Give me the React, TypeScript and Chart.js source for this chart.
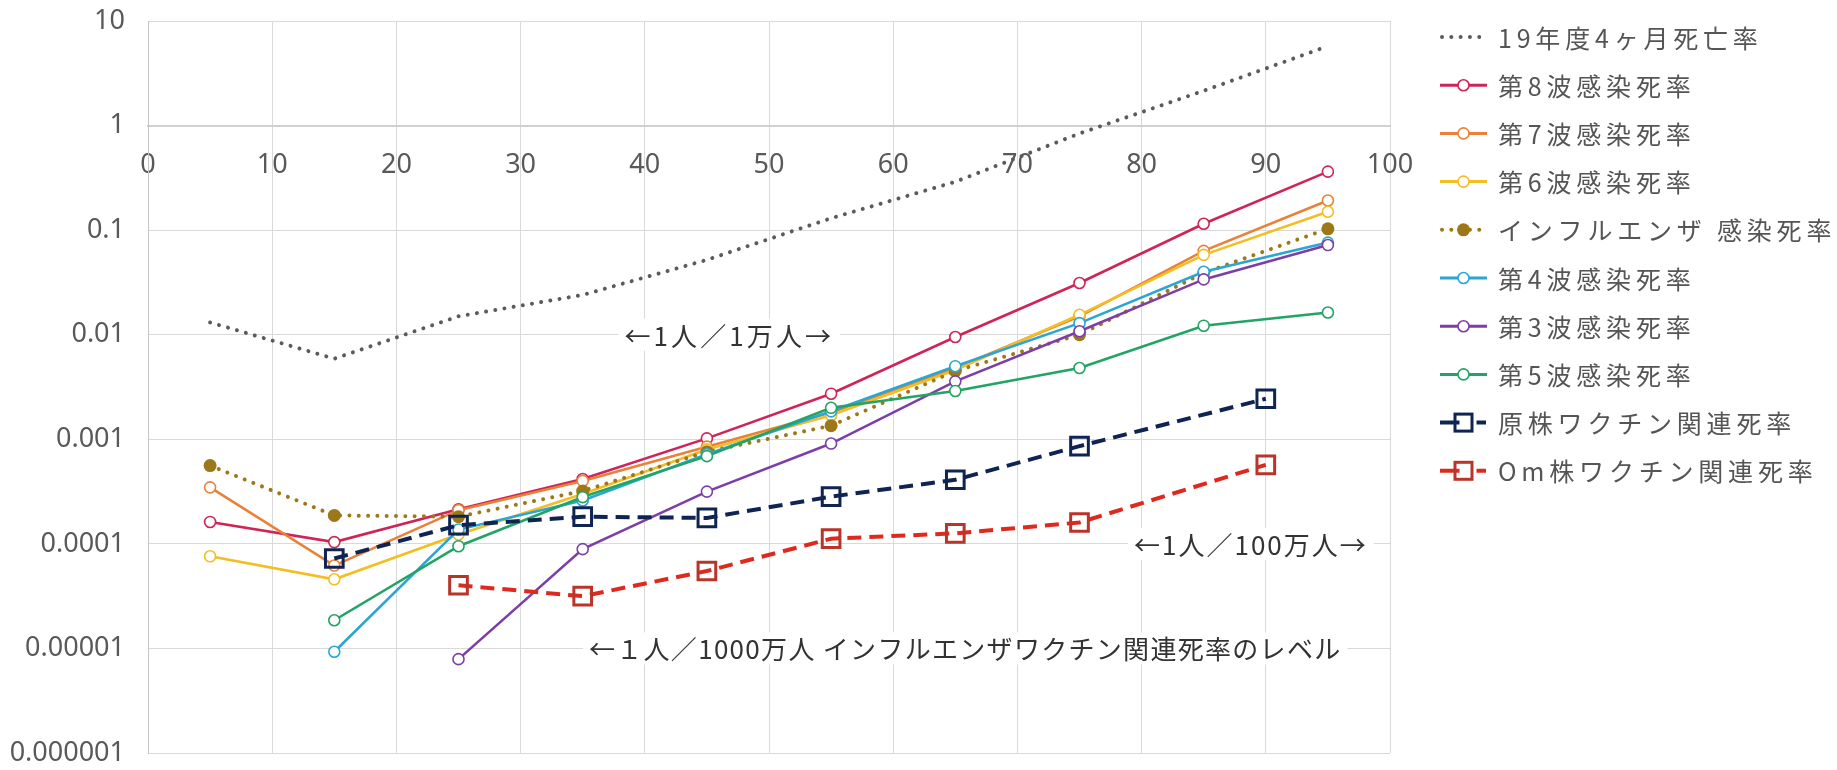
import React, { useEffect, useRef } from 'react';
import { Chart, registerables } from 'chart.js';

Chart.register(...registerables);

// Age groups (class midpoints) and vaccine age groups
const ages = [5, 15, 25, 35, 45, 55, 65, 75, 85, 95];
const ancestralAges = [15, 25, 35, 45, 55, 65, 75, 90];
const omicronAges = [25, 35, 45, 55, 65, 75, 90];

// Death rates (%)
const mortality2019 = [0.0131, 0.0059, 0.015, 0.024, 0.052, 0.13, 0.29, 0.84, 2.15, 5.75];
const wave8 = [0.000162, 0.000104, 0.000214, 0.000417, 0.00102, 0.00273, 0.0095, 0.0312, 0.115, 0.363];
const wave7 = [0.000347, 0.000062, 0.00021, 0.0004, 0.00085, 0.0018, 0.0048, 0.015, 0.0634, 0.192];
const wave6 = [0.000076, 0.0000458, 0.000123, 0.0003, 0.0008, 0.0017, 0.0046, 0.0155, 0.058, 0.15];
const influenza = [0.00056, 0.000187, 0.000182, 0.00032, 0.00076, 0.00135, 0.0045, 0.01, 0.039, 0.103];
const wave4 = [null, 0.0000093, 0.000137, 0.00026, 0.00072, 0.00185, 0.005, 0.0129, 0.04, 0.076];
const wave3 = [null, null, 0.0000079, 0.000089, 0.000316, 0.00091, 0.00358, 0.0108, 0.0338, 0.072];
const wave5 = [null, 0.0000186, 0.000095, 0.00028, 0.00069, 0.002, 0.0029, 0.0048, 0.0122, 0.0163];
const ancestralVaccine = [0.0000724, 0.000151, 0.000182, 0.000177, 0.000283, 0.00041, 0.00086, 0.00244];
const omicronVaccine = [0.0000402, 0.0000316, 0.000055, 0.000112, 0.000126, 0.00016, 0.00057];

// Axis ticks
const xTickValues = [0, 10, 20, 30, 40, 50, 60, 70, 80, 90, 100];
const yTickValues = [1e-6, 1e-5, 1e-4, 1e-3, 1e-2, 1e-1, 1, 10];
const yTickLabels = ['0.000001', '0.00001', '0.0001', '0.001', '0.01', '0.1', '1', '10'];

// Reference-level notes written across the grid lines
const notes = [
  { text: '←1人／1万人→', x: 46.8, y: 1e-2, spacing: 3.1 },
  { text: '←1人／100万人→', x: 88.8, y: 1e-4, spacing: 2 },
  { text: '←１人／1000万人 インフルエンザワクチン関連死率のレベル', x: 65.8, y: 1e-5, spacing: 1.3 },
];

type Kind = 'dots' | 'circle' | 'filled' | 'square';

interface Series {
  label: string;
  xs: number[];
  ys: (number | null)[];
  color: string;
  markerColor?: string;
  kind: Kind;
}

const series: Series[] = [
  { label: '19年度4ヶ月死亡率', xs: ages, ys: mortality2019, color: '#5b5b5b', kind: 'dots' },
  { label: '第8波感染死率', xs: ages, ys: wave8, color: '#cf2457', kind: 'circle' },
  { label: '第7波感染死率', xs: ages, ys: wave7, color: '#e98238', kind: 'circle' },
  { label: '第6波感染死率', xs: ages, ys: wave6, color: '#f4bd22', kind: 'circle' },
  { label: 'インフルエンザ 感染死率', xs: ages, ys: influenza, color: '#9c7818', kind: 'filled' },
  { label: '第4波感染死率', xs: ages, ys: wave4, color: '#2aa6d6', kind: 'circle' },
  { label: '第3波感染死率', xs: ages, ys: wave3, color: '#7d3ea8', kind: 'circle' },
  { label: '第5波感染死率', xs: ages, ys: wave5, color: '#21a464', kind: 'circle' },
  { label: '原株ワクチン関連死率', xs: ancestralAges, ys: ancestralVaccine, color: '#0f2452', kind: 'square' },
  { label: 'Om株ワクチン関連死率', xs: omicronAges, ys: omicronVaccine, color: '#de2a1e', markerColor: '#b9352a', kind: 'square' },
];

const DOT_DASH = [0.01, 9.3];
const DASH = [14, 8];

function buildDataset(s: Series, i: number) {
  const data = s.xs
    .map((x, k) => ({ x, y: s.ys[k] }))
    .filter((p) => p.y !== null) as { x: number; y: number }[];
  const base: any = {
    label: s.label,
    data,
    borderColor: s.color,
    order: series.length - i,
    tension: 0,
    fill: false,
  };
  if (s.kind === 'dots') {
    return { ...base, borderWidth: 4, borderDash: DOT_DASH, borderCapStyle: 'round', pointRadius: 0 };
  }
  if (s.kind === 'filled') {
    return {
      ...base,
      borderWidth: 4,
      borderDash: DOT_DASH,
      borderCapStyle: 'round',
      pointStyle: 'circle',
      pointRadius: 6.5,
      pointBorderWidth: 0,
      pointBackgroundColor: s.color,
    };
  }
  if (s.kind === 'square') {
    return {
      ...base,
      borderWidth: 4,
      borderDash: DASH,
      pointStyle: 'rect',
      pointRadius: 12.5,
      pointBorderWidth: 3,
      pointBorderColor: s.markerColor || s.color,
      pointBackgroundColor: 'rgba(255,255,255,0)',
    };
  }
  return {
    ...base,
    borderWidth: 2.6,
    pointStyle: 'circle',
    pointRadius: 5.5,
    pointBorderWidth: 1.6,
    pointBorderColor: s.color,
    pointBackgroundColor: '#ffffff',
  };
}

const FONT_CJK = '"Noto Sans CJK JP", "Noto Sans", sans-serif';

// Side legend: line sample with marker, then the label
const sideLegend = {
  id: 'sideLegend',
  afterDraw(chart: any) {
    const ctx: CanvasRenderingContext2D = chart.ctx;
    const x0 = chart.chartArea.right + 50;
    const x1 = x0 + 47;
    const cx = (x0 + x1) / 2;
    const top = 37;
    const step = 48.2;
    ctx.save();
    series.forEach((s, i) => {
      const y = top + step * i;
      ctx.save();
      ctx.strokeStyle = s.color;
      if (s.kind === 'dots' || s.kind === 'filled') {
        ctx.lineWidth = 4;
        ctx.lineCap = 'round';
        ctx.setLineDash([0.01, 9.3]);
        ctx.beginPath();
        ctx.moveTo(x0 + 2, y);
        ctx.lineTo(x1, y);
        ctx.stroke();
      } else if (s.kind === 'square') {
        ctx.lineWidth = 4;
        ctx.lineCap = 'butt';
        ctx.setLineDash([]);
        ctx.beginPath();
        ctx.moveTo(x0, y);
        ctx.lineTo(cx - 4, y);
        ctx.moveTo(cx + 13, y);
        ctx.lineTo(x1 - 1, y);
        ctx.stroke();
      } else {
        ctx.lineWidth = 3;
        ctx.setLineDash([]);
        ctx.beginPath();
        ctx.moveTo(x0, y);
        ctx.lineTo(x1, y);
        ctx.stroke();
      }
      ctx.setLineDash([]);
      if (s.kind === 'circle') {
        ctx.fillStyle = '#ffffff';
        ctx.lineWidth = 1.6;
        ctx.beginPath();
        ctx.arc(cx, y, 5.5, 0, Math.PI * 2);
        ctx.fill();
        ctx.stroke();
      } else if (s.kind === 'filled') {
        ctx.fillStyle = s.color;
        ctx.beginPath();
        ctx.arc(cx, y, 6.5, 0, Math.PI * 2);
        ctx.fill();
      } else if (s.kind === 'square') {
        ctx.strokeStyle = s.markerColor || s.color;
        ctx.lineWidth = 3;
        ctx.strokeRect(cx - 8.5, y - 8.5, 17, 17);
      }
      ctx.restore();

      ctx.fillStyle = '#555555';
      ctx.font = `25px ${FONT_CJK}`;
      (ctx as any).letterSpacing = '4.8px';
      ctx.textAlign = 'left';
      ctx.textBaseline = 'middle';
      ctx.fillText(s.label, x1 + 11, y + 1);
    });
    ctx.restore();
  },
};

// Notes on the grid lines, boxed in white so the line stops around the text
const gridNotes = {
  id: 'gridNotes',
  beforeDatasetsDraw(chart: any) {
    const ctx: CanvasRenderingContext2D = chart.ctx;
    const xs = chart.scales.x;
    const ys = chart.scales.y;
    ctx.save();
    ctx.font = `26px ${FONT_CJK}`;
    ctx.textAlign = 'center';
    ctx.textBaseline = 'middle';
    notes.forEach((n) => {
      (ctx as any).letterSpacing = `${n.spacing}px`;
      const px = xs.getPixelForValue(n.x);
      const py = ys.getPixelForValue(n.y);
      const w = ctx.measureText(n.text).width;
      ctx.fillStyle = '#ffffff';
      ctx.fillRect(px - w / 2 - 6, py - 16, w + 12, 32);
      ctx.fillStyle = '#333333';
      ctx.fillText(n.text, px, py + 1);
    });
    ctx.restore();
  },
};

export default function App() {
  const canvasRef = useRef<HTMLCanvasElement | null>(null);

  useEffect(() => {
    const canvas = canvasRef.current;
    if (!canvas) return;
    const tickFont = { family: '"Noto Sans", sans-serif', size: 27 };
    const chart = new Chart(canvas, {
      type: 'line',
      data: { datasets: series.map(buildDataset) },
      options: {
        responsive: false,
        animation: false,
        events: [],
        layout: { padding: { top: 21, right: 447, bottom: 17, left: 0 } },
        plugins: {
          legend: { display: false },
          tooltip: { enabled: false },
        },
        scales: {
          x: {
            type: 'linear',
            min: 0,
            max: 100,
            position: { y: 1 } as any,
            afterBuildTicks: (axis: any) => {
              axis.ticks = xTickValues.map((v) => ({ value: v }));
            },
            afterFit: (axis: any) => {
              axis.paddingLeft = 0;
              axis.paddingRight = 0;
            },
            ticks: {
              font: tickFont,
              color: '#595959',
              padding: 24,
              maxRotation: 0,
              autoSkip: false,
            },
            grid: { color: '#d9d9d9', lineWidth: 1, drawTicks: false },
            border: { display: true, color: '#d0d0d0', width: 2 },
          },
          y: {
            type: 'logarithmic',
            min: 1e-6,
            max: 10,
            position: 'left',
            afterBuildTicks: (axis: any) => {
              axis.ticks = yTickValues.map((v) => ({ value: v }));
            },
            afterFit: (axis: any) => {
              axis.width = 148;
              axis.paddingTop = 0;
              axis.paddingBottom = 0;
            },
            ticks: {
              font: tickFont,
              color: '#595959',
              padding: 23,
              autoSkip: false,
              callback: (v: any) => {
                const k = yTickValues.findIndex((t) => Math.abs(Math.log10(t) - Math.log10(Number(v))) < 1e-6);
                return k >= 0 ? yTickLabels[k] : '';
              },
            },
            grid: { color: '#d9d9d9', lineWidth: 1, drawTicks: false },
            border: { display: true, color: '#c4c4c4', width: 1 },
          },
        },
      },
      plugins: [gridNotes, sideLegend],
    } as any);
    return () => chart.destroy();
  }, []);

  return (
    <div style={{ position: 'fixed', left: 0, top: 0, width: 1837, height: 770, background: '#ffffff' }}>
      <canvas ref={canvasRef} width={1837} height={770} style={{ display: 'block' }} />
    </div>
  );
}
